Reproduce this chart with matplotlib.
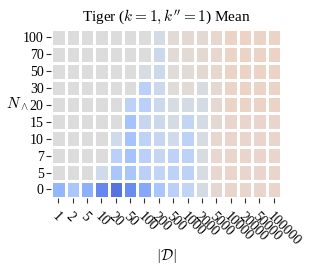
import numpy as np
import matplotlib
matplotlib.use("Agg")
import matplotlib.pyplot as plt

plt.rcParams['font.family'] = 'Liberation Serif'
plt.rcParams['mathtext.fontset'] = 'cm'

# dataset sizes (columns) and N_wedge values (rows, bottom -> top)
d_sizes = ['1', '2', '5', '10', '20', '50', '100', '200', '500', '1000',
           '2000', '5000', '10000', '20000', '50000', '100000']
n_wedge = ['0', '5', '7', '10', '15', '20', '30', '50', '70', '100']

# normalised mean score, rows follow n_wedge order
row_0 = [0.27, 0.33, 0.25, 0.14, 0.09, 0.15, 0.23, 0.33, 0.38, 0.41, 0.47, 0.53, 0.55, 0.55, 0.55, 0.55]
row_5 = [0.50, 0.50, 0.50, 0.45, 0.33, 0.33, 0.38, 0.41, 0.39, 0.39, 0.48, 0.54, 0.55, 0.55, 0.55, 0.55]
row_7 = [0.50, 0.50, 0.50, 0.50, 0.38, 0.32, 0.38, 0.42, 0.39, 0.39, 0.48, 0.54, 0.55, 0.55, 0.55, 0.55]
row_10 = [0.50, 0.50, 0.50, 0.50, 0.45, 0.32, 0.39, 0.42, 0.45, 0.39, 0.48, 0.54, 0.55, 0.55, 0.55, 0.55]
row_15 = [0.50, 0.50, 0.50, 0.50, 0.50, 0.32, 0.42, 0.44, 0.47, 0.41, 0.47, 0.53, 0.55, 0.55, 0.55, 0.55]
row_20 = [0.50, 0.50, 0.50, 0.50, 0.50, 0.39, 0.38, 0.44, 0.48, 0.47, 0.47, 0.53, 0.56, 0.56, 0.56, 0.56]
row_30 = [0.50, 0.50, 0.50, 0.50, 0.50, 0.50, 0.38, 0.44, 0.51, 0.52, 0.48, 0.53, 0.56, 0.56, 0.56, 0.56]
row_50 = [0.50, 0.50, 0.50, 0.50, 0.50, 0.50, 0.48, 0.44, 0.51, 0.52, 0.53, 0.54, 0.56, 0.56, 0.56, 0.56]
row_70 = [0.50, 0.50, 0.50, 0.50, 0.50, 0.50, 0.50, 0.44, 0.52, 0.52, 0.53, 0.54, 0.56, 0.56, 0.56, 0.56]
row_100 = [0.50, 0.50, 0.50, 0.50, 0.50, 0.50, 0.50, 0.47, 0.52, 0.53, 0.53, 0.54, 0.56, 0.56, 0.56, 0.56]

data = np.array([row_0, row_5, row_7, row_10, row_15, row_20, row_30, row_50, row_70, row_100])

fig = plt.figure(figsize=(3.1, 2.7), dpi=100)
ax = fig.add_axes([0.165, 0.267, 0.741, 0.626])

ax.pcolormesh(data, cmap='coolwarm', vmin=0, vmax=1, edgecolors='white', linewidth=2)
ax.set_xlim(0, len(d_sizes))
ax.set_ylim(0, len(n_wedge))

ax.set_xticks(np.arange(len(d_sizes)) + 0.5)
ax.set_xticklabels(d_sizes, rotation=-45, ha='left', va='top', rotation_mode='anchor', fontsize=10)
ax.set_yticks(np.arange(len(n_wedge)) + 0.5)
ax.set_yticklabels(n_wedge, fontsize=10)
ax.tick_params(length=3.5, width=0.8, color='#333333', pad=2)
ax.tick_params(axis='x', pad=5)
for s in ax.spines.values():
    s.set_visible(False)

ax.set_xlabel(r'$|\mathcal{D}|$', fontsize=11, labelpad=-1)
ax.set_ylabel(r'$N_\wedge$', fontsize=11, rotation=0, labelpad=4)
ax.set_title(r"Tiger ($k=1, k''=1$) Mean", fontsize=11, pad=6)

fig.savefig('out.png', dpi=100)
